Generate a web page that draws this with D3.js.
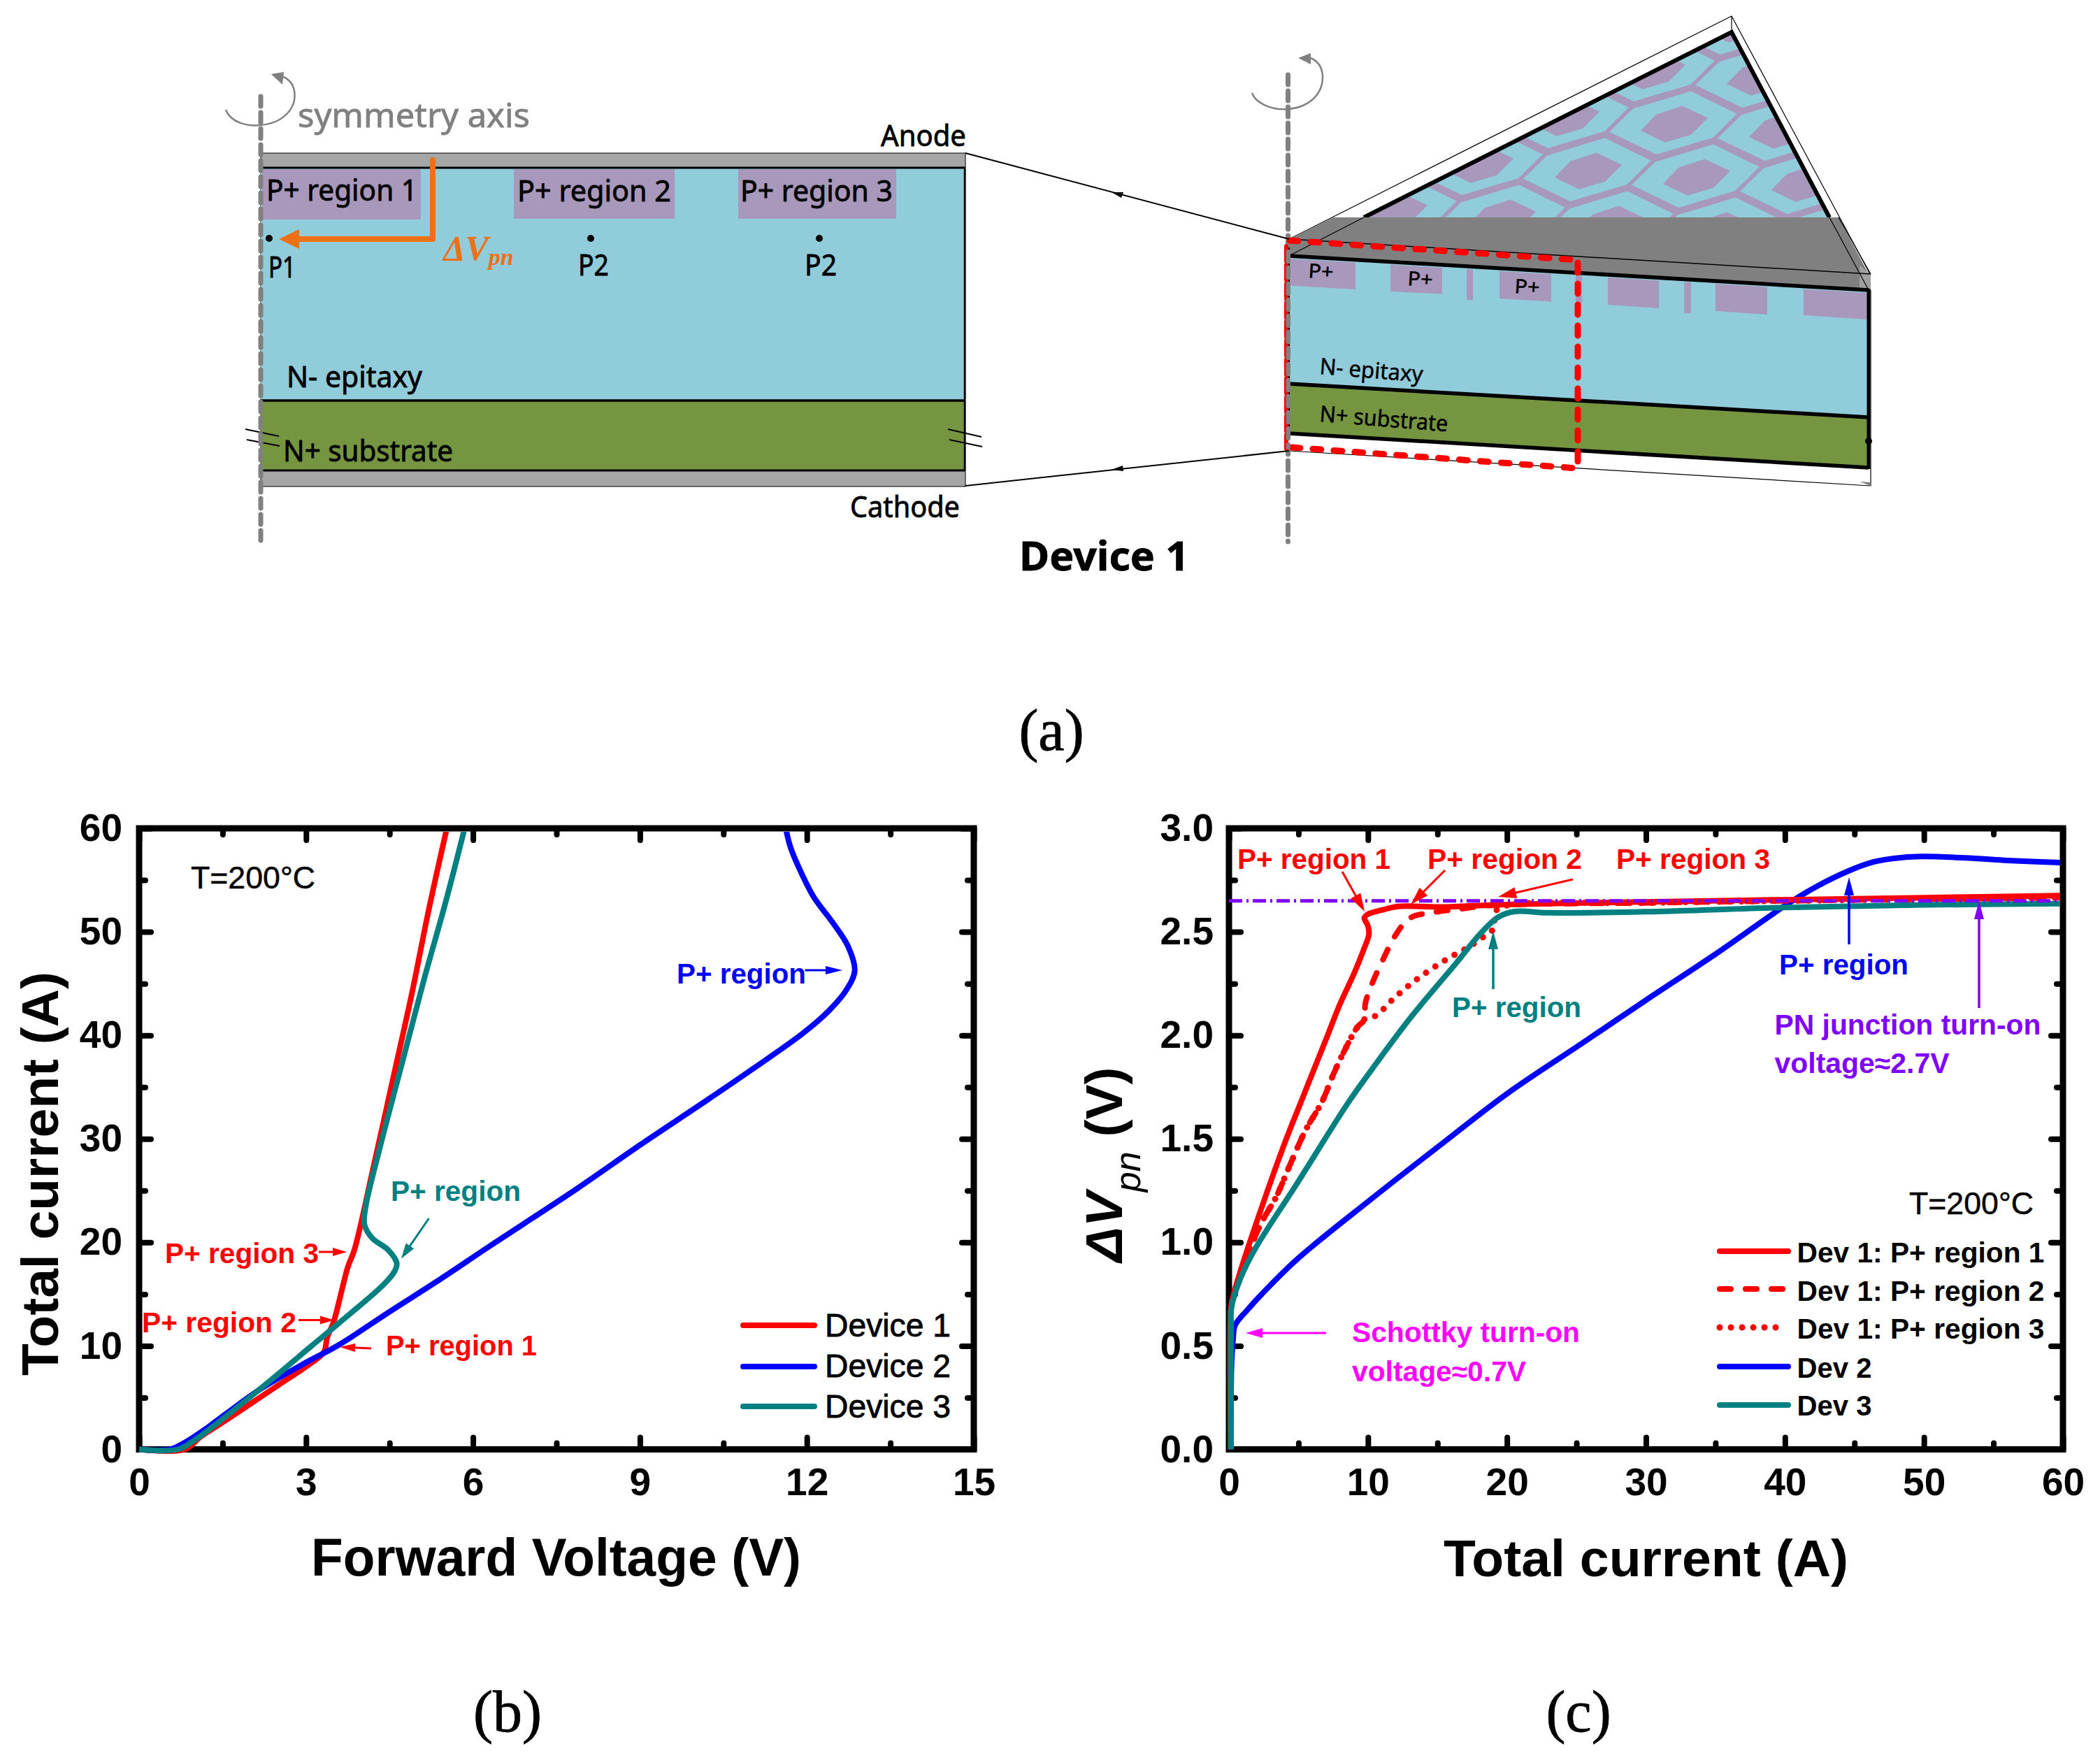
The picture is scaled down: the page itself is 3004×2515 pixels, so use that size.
<!DOCTYPE html>
<html><head><meta charset="utf-8">
<style>html,body{margin:0;padding:0;background:#fff}svg{display:block}</style>
<script src="https://d3js.org/d3.v7.min.js"></script>
</head><body><svg id="c" width="3004" height="2515" xmlns="http://www.w3.org/2000/svg"></svg>
<script>
// ---------- DATA ----------
const fwdTicksMajor = [0,3,6,9,12,15];
const fwdTicksMinor = [1.5,4.5,7.5,10.5,13.5];
const curTicksMajorB = [0,10,20,30,40,50,60];
const curTicksMinorB = [5,15,25,35,45,55];
const curTicksMajorC = [0,10,20,30,40,50,60];
const curTicksMinorC = [5,15,25,35,45,55];
const dvTicksMajor = [0,0.5,1,1.5,2,2.5,3];
const dvTicksMinor = [0.25,0.75,1.25,1.75,2.25,2.75];

const ivDevice1 = [[0,0],[0.82,0],[1.1,1.2],[1.5,2.6],[2,4.4],[2.5,6.2],[3,8],[3.32,9.4],[3.38,10.8],[3.5,12.4],[3.75,17.6],[3.87,19.3],[4.2,27],[4.55,35.5],[4.9,44],[5.2,52],[5.53,60]];
const ivDevice2 = [[0,0],[0.55,0],[0.8,0.6],[1.2,2],[1.6,3.6],[2.2,5.9],[3,8.4],[3.59,10.1],[4.5,13.3],[5.4,16.4],[6.29,19.6],[7.9,25.3],[9,29.4],[10.14,33.5],[11.04,36.8],[11.93,40.2],[12.4,42.4],[12.7,44.3],[12.86,46.25],[12.74,48.6],[12.45,51],[12.13,53.3],[11.9,55.7],[11.71,58.1],[11.62,60]];
const ivDevice3 = [[0,0],[0.7,0],[1,0.9],[1.35,2.3],[2.3,6.4],[3.1,10],[3.59,12.2],[4.39,15.9],[4.59,17.2],[4.63,18],[4.47,19.3],[4.19,20.4],[4.05,21.7],[4.07,23.4],[4.31,28.8],[4.71,37],[5.11,45.2],[5.51,52.9],[5.85,60]];

const dvRegion1 = [[0.12,0],[0.12,0.66],[0.2,0.71],[0.82,0.86],[1.85,1.07],[3.9,1.46],[5.13,1.67],[6.98,1.98],[7.98,2.15],[8.99,2.297],[9.66,2.409],[10.07,2.488],[9.99,2.53],[9.74,2.567],[9.99,2.585],[11,2.605],[12.17,2.623],[15.2,2.62],[20,2.632],[30,2.645],[40,2.655],[50,2.665],[60,2.675]];
const dvRegion2 = [[0.12,0.66],[0.3,0.74],[1,0.88],[2.3,1.09],[3.4,1.22],[4.3,1.36],[5.5,1.54],[6.7,1.68],[7.5,1.81],[8.3,1.925],[9.24,2.04],[9.8,2.08],[9.8,2.15],[10.3,2.25],[11.07,2.364],[11.92,2.477],[13,2.566],[14.69,2.594],[16.7,2.611],[18.9,2.628],[30,2.64],[40,2.65],[60,2.665]];
const dvRegion3 = [[0.12,0.66],[0.3,0.74],[1,0.88],[2.3,1.09],[3.4,1.22],[4.3,1.36],[5.5,1.54],[6.7,1.68],[7.5,1.81],[8.3,1.925],[9.24,2.04],[9.8,2.08],[10.57,2.095],[11.76,2.172],[13,2.244],[14.34,2.31],[15.78,2.372],[17.2,2.425],[18.55,2.488],[19.1,2.52],[19.1,2.59],[19.7,2.622],[30,2.64],[40,2.65],[60,2.665]];
const dvDev2 = [[0.15,0],[0.18,0.394],[0.3,0.534],[0.44,0.6],[1.33,0.674],[2.36,0.75],[4.93,0.92],[10.06,1.2],[15.2,1.47],[20,1.718],[25.5,1.966],[30,2.17],[35.1,2.397],[40.15,2.633],[42.3,2.72],[44.6,2.795],[46.4,2.838],[47.85,2.855],[49.8,2.864],[53.6,2.855],[56,2.845],[60,2.834]];
const dvDev3 = [[0.15,0],[0.15,0.6],[0.18,0.685],[0.82,0.825],[1.85,0.965],[4.93,1.288],[8.48,1.665],[10.06,1.815],[13,2.08],[16.36,2.35],[18.04,2.488],[19.4,2.572],[20.55,2.598],[22.9,2.592],[30,2.597],[40,2.618],[50,2.63],[60,2.636]];
const pnVoltage = 2.65;

const legendB = ["Device 1","Device 2","Device 3"];
const legendC = ["Dev 1: P+ region 1","Dev 1: P+ region 2","Dev 1: P+ region 3","Dev 2","Dev 3"];

// ---------- STYLE ----------
const RED="#ff0000",BLUE="#0000ff",TEAL="#008080",PURPLE="#8000ff",MAG="#ff00ff",ORANGE="#ed7014";
const EPI="#91ccdb",PP="#a898bc",SUB="#769540",GR="#a6a6a6",DG="#808080";
const SANS="'Liberation Sans',Arial,sans-serif",NOTO="'Noto Sans',sans-serif",SERIF="'Liberation Serif',serif";
const svg=d3.select("#c");
const line2=d3.line();

function txt(g,s,x,y,o={}){
  const t=g.append("text").attr("x",x).attr("y",y).text(s)
    .attr("font-family",o.f||SANS).attr("font-size",o.s||40)
    .attr("font-weight",o.b?"bold":"normal").attr("fill",o.c||"#000");
  if(o.i)t.attr("font-style","italic");
  if(o.w)t.attr("textLength",o.w).attr("lengthAdjust","spacingAndGlyphs");
  if(o.a)t.attr("text-anchor",o.a);
  if(o.h)t.attr("stroke",o.c||"#000").attr("stroke-width",o.h);
  if(o.r!=null)t.attr("transform",`rotate(${o.r} ${x} ${y})`);
  return t;
}
function ln(g,pts,c,w,o={}){
  const p=g.append("path").attr("d",line2(pts)).attr("fill","none").attr("stroke",c).attr("stroke-width",w)
    .attr("stroke-linecap",o.cap||"butt").attr("stroke-linejoin",o.join||"round");
  if(o.dash)p.attr("stroke-dasharray",o.dash);
  return p;
}
function poly(g,pts,c){return g.append("path").attr("d",line2(pts)+"Z").attr("fill",c).attr("stroke","none");}
function arrow(g,x0,y0,x1,y1,c,w=3.5,hl=22,hw=8){
  const a=Math.atan2(y1-y0,x1-x0),ca=Math.cos(a),sa=Math.sin(a);
  ln(g,[[x0,y0],[x1-ca*hl*.8,y1-sa*hl*.8]],c,w);
  poly(g,[[x1,y1],[x1-ca*hl-sa*hw,y1-sa*hl+ca*hw],[x1-ca*hl+sa*hw,y1-sa*hl-ca*hw]],c);
}

// ---------- PANEL (a) LEFT: cross-section ----------
const A=svg.append("g");
A.append("rect").attr("x",373).attr("y",219).attr("width",1008).attr("height",477).attr("fill",GR).attr("stroke","#000").attr("stroke-width",1);
A.append("rect").attr("x",373).attr("y",240).attr("width",1008).attr("height",333).attr("fill",EPI);
A.append("rect").attr("x",373).attr("y",573).attr("width",1008).attr("height",100).attr("fill",SUB);
[[375,602,314],[735,965,313],[1056,1282,313]].forEach(([a,b,c])=>A.append("rect").attr("x",a).attr("y",242).attr("width",b-a).attr("height",c-242).attr("fill",PP));
ln(A,[[373,240],[1381,240]],"#000",3);ln(A,[[373,573],[1381,573]],"#000",3.5);ln(A,[[373,673],[1381,673]],"#000",3);
ln(A,[[1380,240],[1380,673]],"#000",2.5);
[[[351,614],[399,624]],[[353,629],[400,638]],[[1356,614],[1404,625]],[[1358,629],[1405,639]]].forEach(p=>ln(A,p,"#000",2));
ln(A,[[373,138],[373,775]],DG,7,{dash:"14,9",cap:"round"});
A.append("path").attr("d","M323,157 C330,176 355,181 373,179 C405,176 425,155 421,130 C419,118 412,112 401,108").attr("fill","none").attr("stroke",DG).attr("stroke-width",2.5);
poly(A,[[388,106],[406,103],[404,121]],DG);
const nh=0.8;
txt(A,"symmetry axis",426,182,{f:NOTO,s:48,c:DG,w:332,h:nh});
txt(A,"Anode",1260,209,{f:NOTO,s:42,w:122,h:nh});
txt(A,"Cathode",1216,740,{f:NOTO,s:42,w:157,h:nh});
txt(A,"P+ region 1",381,286.5,{f:NOTO,s:42,w:216,h:nh});
txt(A,"P+ region 2",740,287.5,{f:NOTO,s:42,w:220,h:nh});
txt(A,"P+ region 3",1059,287.5,{f:NOTO,s:42,w:218,h:nh});
txt(A,"P1",384,397,{f:NOTO,s:42,w:39,h:nh});
txt(A,"P2",827,394,{f:NOTO,s:42,w:44,h:nh});
txt(A,"P2",1151,394,{f:NOTO,s:42,w:46,h:nh});
txt(A,"N- epitaxy",410,554,{f:NOTO,s:42,w:194,h:nh});
txt(A,"N+ substrate",405,660,{f:NOTO,s:42,w:243,h:nh});
[[385,341],[845,341],[1172,341]].forEach(([x,y])=>A.append("circle").attr("cx",x).attr("cy",y).attr("r",5).attr("fill","#000"));
ln(A,[[619,229],[619,342],[425,342]],ORANGE,8,{join:"round",cap:"round"});
poly(A,[[399,342],[428,328],[428,356]],ORANGE);
const dv=txt(A,"",634,372,{f:SERIF,s:50,c:ORANGE,i:1,b:1});
dv.append("tspan").text("ΔV");dv.append("tspan").attr("font-size",34).attr("dy",7).text("pn");
txt(A,"Device 1",1458,816,{f:NOTO,s:58,b:1,w:243,h:0.8});

// ---------- PANEL (a) RIGHT: 3D wedge ----------
const W=svg.append("g");
const tri=[[1844,366],[2477,46],[2673,415]];
const defs=svg.append("defs");
defs.append("clipPath").attr("id","tri").append("path").attr("d",line2(tri)+"Z");
const H=W.append("g").attr("clip-path","url(#tri)");
poly(H,tri,PP);
const hexO=[[-58.9,-22.3],[24,-47.3],[89.6,-15],[55.1,19.3],[-25.7,43.3],[-92.9,11]];
const hexI=[[-25.7,-14],[11.6,-26.3],[48.1,-9],[24,15],[-13.3,26],[-48.1,9.3]];
d3.range(-4,5).forEach(i=>d3.range(-4,5).forEach(j=>{
  const cx=2395+123*i+32*j,cy=177.7-67*i+76*j;
  poly(H,hexO.map(([a,b])=>[cx+a,cy+b]),EPI);
  poly(H,hexI.map(([a,b])=>[cx+a,cy+b]),PP);
}));
ln(W,[[1951,311],[2477,46],[2617,311]],"#000",6,{join:"miter"});
ln(W,[[1844,342],[2477,23],[2675,392]],"#000",1.2);
ln(W,[[2477,23],[2477,46]],"#000",1.2);
poly(W,[[1844,342],[1906,311],[2630,311],[2673,392],[2673,415],[1844,366]],DG);
poly(W,[[2660,380],[2676,392],[2676,415],[2660,412]],"#a0a0a0");
ln(W,[[1844,342],[2676,392]],"#000",1.5);
ln(W,[[1844,366],[1951,311]],"#000",1.2);
ln(W,[[2617,311],[2673,415]],"#000",1.2);
ln(W,[[2630,311],[2676,392]],"#000",1.2);
// front face
poly(W,[[1844,366],[2673,415],[2673,597],[1844,549]],EPI);
poly(W,[[1844,549],[2673,597],[2673,669],[1844,620]],SUB);
const s=(x)=>366+0.0591*(x-1844)+4;
[[1844,1939,408.6,414],[1989,2063,417,420.6],[2098,2107,429,429],[2145,2219,427,431.6],[2254,2263,434,434],[2300,2373,436,441],[2409,2419,448,448],[2454,2528,445,450],[2580,2672,451,457]]
 .forEach(([a,b,c,d])=>poly(W,[[a,s(a)],[b,s(b)],[b,d],[a,c]],PP));
ln(W,[[1844,366],[2673,415]],"#000",5.5);
ln(W,[[1844,549],[2673,597]],"#000",5.5);
ln(W,[[1844,620],[2673,669]],"#000",5.5);
ln(W,[[2673,413],[2673,671]],"#000",5);
ln(W,[[1843,345],[1843,620]],"#000",4);
ln(W,[[2676,415],[2676,695],[1844,645]],"#000",1.2);
poly(W,[[2660,689],[2676,690],[2676,695]],DG);
W.append("circle").attr("cx",2673).attr("cy",631).attr("r",5).attr("fill","#000");
ln(W,[[1842.5,107],[1842.5,775]],DG,7,{dash:"14,9",cap:"round"});
W.append("path").attr("d","M1791,133 C1796,148 1820,158 1842,156 C1872,154 1893,135 1892,108 C1891,95 1884,87 1875,83").attr("fill","none").attr("stroke",DG).attr("stroke-width",2.5);
poly(W,[[1857,83],[1875,76],[1875,92]],DG);
// red dashed outline
const redDash="12,18";
ln(W,[[1845,344],[2257,372]],RED,9,{dash:redDash,cap:"round"});
ln(W,[[2257,376],[2257,672]],RED,9,{dash:"14,16",cap:"round"});
ln(W,[[1848,640],[2257,670]],RED,9,{dash:redDash,cap:"round"});
ln(W,[[1840,352],[1840,642]],RED,6,{dash:"22,5",cap:"round"});
ln(W,[[1842.5,360],[1842.5,640]],DG,6,{dash:"14,9",cap:"round"});
const n={f:NOTO,s:30,h:0.5};
txt(W,"P+",1871,397,{...n,s:28,w:36,r:3.4});
txt(W,"P+",2013,408,{...n,s:28,w:36,r:3.4});
txt(W,"P+",2166,419,{...n,s:28,w:36,r:3.4});
txt(W,"N- epitaxy",1887,535,{...n,s:32,w:148,r:4.5});
txt(W,"N+ substrate",1887,603,{...n,s:32,w:184,r:4.5});
// connectors
ln(svg,[[1381,219],[1844,342]],"#000",2);
ln(svg,[[1381,695],[1844,645]],"#000",2);
poly(svg,[[1590,275],[1607,275],[1604,283]],"#000");poly(svg,[[1590,672],[1606,666],[1607,674]],"#000");
txt(svg,"(a)",1504,1073,{f:SERIF,s:84,a:"middle",h:0.8});
txt(svg,"(b)",726,2477,{f:SERIF,s:84,a:"middle",h:0.8});
txt(svg,"(c)",2258,2477,{f:SERIF,s:84,a:"middle",h:0.8});

// ---------- AXES HELPER ----------
function frame(g,x,y,xMaj,xMin,yMaj,yMin,yFmt,yPad){
  const [x0,x1]=x.range(),[y0,y1]=y.range();
  const sty=sel=>{sel.select(".domain").remove();
    sel.selectAll("line").attr("stroke","#000").attr("stroke-width",8).attr("stroke-linecap","round");
    sel.selectAll("text").attr("font-family",SANS).attr("font-weight","bold").attr("font-size",55).attr("fill","#000");return sel;};
  const mk=(ax,tx,ty)=>g.append("g").attr("transform",`translate(${tx},${ty})`).call(ax).call(sty);
  mk(d3.axisBottom(x).tickValues(xMin).tickSize(-9).tickFormat(""),0,y0);
  mk(d3.axisTop(x).tickValues(xMin).tickSize(-9).tickFormat(""),0,y1);
  mk(d3.axisTop(x).tickValues(xMaj).tickSize(-17).tickFormat(""),0,y1);
  mk(d3.axisBottom(x).tickValues(xMaj).tickSizeInner(-17).tickSizeOuter(0).tickPadding(26).tickFormat(d3.format("d")),0,y0);
  mk(d3.axisLeft(y).tickValues(yMin).tickSize(-9).tickFormat(""),x0,0);
  mk(d3.axisRight(y).tickValues(yMin).tickSize(-9).tickFormat(""),x1,0);
  mk(d3.axisRight(y).tickValues(yMaj).tickSize(-17).tickFormat(""),x1,0);
  mk(d3.axisLeft(y).tickValues(yMaj).tickSizeInner(-17).tickSizeOuter(0).tickPadding(yPad).tickFormat(yFmt),x0,0);
  g.append("rect").attr("x",x0).attr("y",y1).attr("width",x1-x0).attr("height",y0-y1).attr("fill","none").attr("stroke","#000").attr("stroke-width",9);
}
function curve(g,data,x,y,c,w,dash){
  const p=g.append("path").datum(data).attr("fill","none").attr("stroke",c).attr("stroke-width",w)
    .attr("stroke-linejoin","round").attr("stroke-linecap",dash?"round":"butt")
    .attr("d",d3.line().x(d=>x(d[0])).y(d=>y(d[1])).curve(d3.curveCatmullRom.alpha(0.5)));
  if(dash)p.attr("stroke-dasharray",dash);
  return p;
}
function leg(g,x0,x1,y,c,w,dash){
  const p=ln(g,[[x0,y],[x1,y]],c,w,{cap:"round"});if(dash)p.attr("stroke-dasharray",dash);
}

// ---------- PANEL (b) ----------
const B=svg.append("g");
const xb=d3.scaleLinear().domain([0,15]).range([199,1393]);
const yb=d3.scaleLinear().domain([0,60]).range([2073.5,1185]);
defs.append("clipPath").attr("id","cb").append("rect").attr("x",195).attr("y",1190).attr("width",1194).attr("height",890);
frame(B,xb,yb,fwdTicksMajor,fwdTicksMinor,curTicksMajorB,curTicksMinorB,d3.format("d"),24);
const Bp=B.append("g").attr("clip-path","url(#cb)");
curve(Bp,ivDevice1,xb,yb,RED,8);
curve(Bp,ivDevice2,xb,yb,BLUE,8);
curve(Bp,ivDevice3,xb,yb,TEAL,8);
txt(B,"Forward Voltage (V)",445,2254,{b:1,s:76,w:701});
txt(B,"Total current (A)",83,1679,{b:1,s:75,a:"middle",r:-90});
txt(B,"T=200°C",273,1271,{s:45,w:178,h:0.5});
const ab={b:1,s:40};
txt(B,"P+ region 3",236,1807,{...ab,c:RED,w:220});
txt(B,"P+ region 2",203,1906,{...ab,c:RED,w:221});
txt(B,"P+ region 1",552,1939,{...ab,c:RED,w:216});
txt(B,"P+ region",559,1718,{...ab,c:TEAL,w:186});
txt(B,"P+ region",968,1407,{...ab,c:BLUE,w:185});
arrow(B,456,1791,496,1791,RED,3,20,6);
arrow(B,427,1888.5,478,1888.5,RED,3,20,6);
arrow(B,531,1929,486,1927,RED,3,22,6);
arrow(B,613.5,1743,574,1800.5,TEAL,3,22,7);
arrow(B,1151.5,1388,1205,1388,BLUE,3,24,6);
[RED,BLUE,TEAL].forEach((c,i)=>{
  const ly=[1896,1955,2012][i],ty=[1912,1969.5,2027.6][i];
  leg(B,1063,1165,ly,c,8);
  txt(B,legendB[i],1180,ty,{s:46,w:180,h:0.8});
});

// ---------- PANEL (c) ----------
const C=svg.append("g");
const xc=d3.scaleLinear().domain([0,60]).range([1758,2951]);
const yc=d3.scaleLinear().domain([0,3]).range([2073.5,1185]);
defs.append("clipPath").attr("id","cc").append("rect").attr("x",1754).attr("y",1190).attr("width",1193).attr("height",890);
frame(C,xc,yc,curTicksMajorC,curTicksMinorC,dvTicksMajor,dvTicksMinor,d3.format(".1f"),22);
const Cp=C.append("g").attr("clip-path","url(#cc)");
curve(Cp,dvDev2,xc,yc,BLUE,8);
curve(Cp,dvRegion3,xc,yc,RED,9,"0,16");
curve(Cp,dvRegion2,xc,yc,RED,8,"16,21");
curve(Cp,dvRegion1,xc,yc,RED,8);
curve(Cp,dvDev3,xc,yc,TEAL,8);
Cp.append("line").attr("x1",xc(0)).attr("x2",xc(60)).attr("y1",yc(pnVoltage)).attr("y2",yc(pnVoltage))
  .attr("stroke",PURPLE).attr("stroke-width",5).attr("stroke-dasharray","19,6,3,6");
txt(C,"Total current (A)",2065,2255,{b:1,s:75,w:579});
const yt=txt(C,"",1605,1666,{b:1,s:75,a:"middle",r:-90});
yt.append("tspan").attr("font-style","italic").text("ΔV");
yt.append("tspan").attr("font-style","italic").attr("font-weight","normal").attr("font-size",52).attr("dy",26).text("pn");
yt.append("tspan").attr("dy",-26).text(" (V)");
txt(C,"T=200°C",2731,1737,{s:45,w:178,h:0.5});
txt(C,"P+ region 1",1770,1242.5,{...ab,c:RED,w:219});
txt(C,"P+ region 2",2042,1242.5,{...ab,c:RED,w:221});
txt(C,"P+ region 3",2312,1242.5,{...ab,c:RED,w:220});
txt(C,"P+ region",2077,1455,{...ab,c:TEAL,w:185});
txt(C,"P+ region",2545,1394,{...ab,c:BLUE,w:185});
txt(C,"PN junction turn-on",2538.5,1480,{...ab,c:PURPLE,w:381});
txt(C,"voltage≈2.7V",2538.5,1534.6,{...ab,c:PURPLE,w:250});
txt(C,"Schottky turn-on",1934,1920,{...ab,c:MAG,w:326});
txt(C,"voltage≈0.7V",1934,1976,{...ab,c:MAG,w:249});
arrow(C,1920,1247,1952,1304,RED,3,26,8);
arrow(C,2067,1245,2018,1294,RED,3,26,8);
arrow(C,2250,1258,2143,1283,RED,3,26,8);
arrow(C,2136,1415,2136,1332,TEAL,3.5,26,7);
arrow(C,2645,1351,2645,1255,BLUE,3.5,26,7);
arrow(C,2831,1442,2831,1289,PURPLE,3.5,26,7);
arrow(C,1897,1907,1782,1907,MAG,3,24,7);
const ly=[1790,1844,1899,1955,2010],ty=[1805.6,1861,1915,1971,2025];
const ls=[[RED,8,null],[RED,8,"16,21"],[RED,9,"0,16"],[BLUE,8,null],[TEAL,8,null]];
ls.forEach(([c,w,d],i)=>{
  leg(C,2460,i==1?2553:i==2?2548:2558,ly[i],c,w,d);
  const nm=legendC[i];
  txt(C,nm,2570.5,ty[i],{b:1,s:41.5,w:nm.length>6?354:107});
});
</script></body></html>
